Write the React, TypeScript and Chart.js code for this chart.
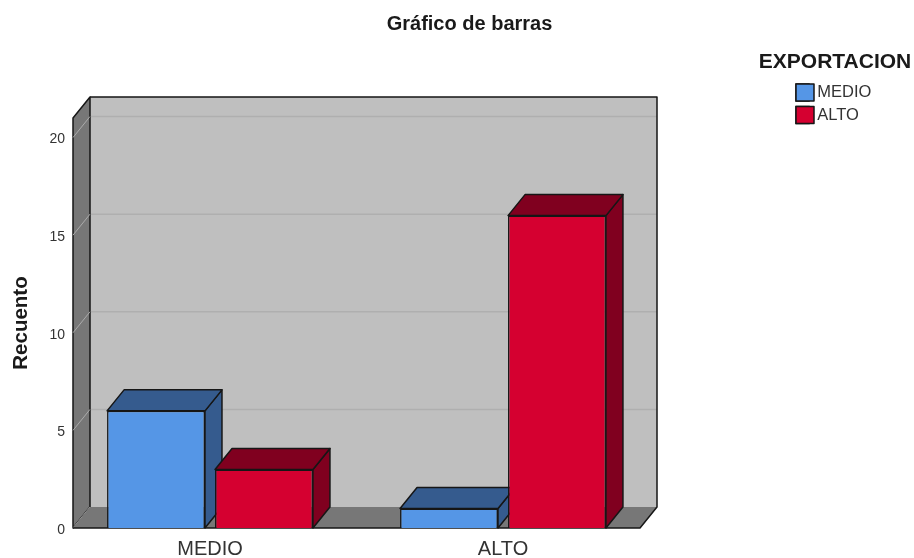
import React, { useEffect, useRef } from "react";
import { Chart, registerables } from "chart.js";

Chart.register(...registerables);

const categories = ["MEDIO", "ALTO"];
const seriesNames = ["MEDIO", "ALTO"];
const medioValues = [6, 1];
const altoValues = [3, 16];
const yTicks = [0, 5, 10, 15, 20];
const frontColors = ["#5596E6", "#D50030"];
const darkColors = ["#355B8E", "#80001F"];

const FONT = "'Liberation Sans', Arial, sans-serif";
const DX = 17;
const DY = 21;
const INSET = 9.5;
const OUTLINE = "#161616";

function poly(ctx: CanvasRenderingContext2D, pts: number[][], fill: string, stroke?: string, lw = 1.5) {
  ctx.beginPath();
  pts.forEach((p, i) => (i ? ctx.lineTo(p[0], p[1]) : ctx.moveTo(p[0], p[1])));
  ctx.closePath();
  ctx.fillStyle = fill;
  ctx.fill();
  if (stroke) {
    ctx.strokeStyle = stroke;
    ctx.lineWidth = lw;
    ctx.lineJoin = "round";
    ctx.stroke();
  }
}

const box3d = {
  id: "box3d",
  afterLayout(chart: any) {
    const t = chart.titleBlock;
    if (t) {
      t.left = 25;
      t.right = 914;
      t.width = 889;
    }
    const l = chart.legend;
    if (l) {
      l.left = 790.5;
      l.right = 879.5;
      l.width = 89;
      l.top = 52;
      l.bottom = 230;
      l.height = 178;
      // the title is wider than the item column: draw without the legend's own clip box
      l.draw = function () {
        this._draw();
      };
    }
    // tick labels sit slightly past the axis edge
    chart.scales.y._computeLabelArea = () => undefined;
  },
  beforeDatasetsDraw(chart: any) {
    const { ctx, chartArea, scales } = chart;
    const x0 = chartArea.left + INSET;
    const x1 = chartArea.right - INSET;
    const yB = chartArea.bottom;
    const yT = chartArea.top;
    ctx.save();
    poly(ctx, [[x0 + DX, yT - DY], [x1 + DX, yT - DY], [x1 + DX, yB - DY], [x0 + DX, yB - DY]], "#BFBFBF");
    yTicks.forEach((v) => {
      const y = scales.y.getPixelForValue(v);
      if (v > 0) {
        ctx.strokeStyle = "#AFAFAF";
        ctx.lineWidth = 1.5;
        ctx.beginPath();
        ctx.moveTo(x0 + DX, y - DY);
        ctx.lineTo(x1 + DX, y - DY);
        ctx.stroke();
      }
    });
    poly(ctx, [[x0, yT], [x0 + DX, yT - DY], [x0 + DX, yB - DY], [x0, yB]], "#777777", OUTLINE, 1.5);
    yTicks.forEach((v) => {
      const y = scales.y.getPixelForValue(v);
      ctx.strokeStyle = "#ABABAB";
      ctx.lineWidth = 1;
      ctx.beginPath();
      ctx.moveTo(x0, y);
      ctx.lineTo(x0 + DX, y - DY);
      ctx.stroke();
    });
    poly(ctx, [[x0, yB], [x0 + DX, yB - DY], [x1 + DX, yB - DY], [x1, yB]], "#777777");
    ctx.strokeStyle = OUTLINE;
    ctx.lineWidth = 1.5;
    ctx.beginPath();
    ctx.moveTo(x0 + DX, yT - DY);
    ctx.lineTo(x1 + DX, yT - DY);
    ctx.lineTo(x1 + DX, yB - DY);
    ctx.lineTo(x1, yB);
    ctx.lineTo(x0, yB);
    ctx.stroke();
    categories.forEach((_, c) => {
      chart.data.datasets.forEach((_d: any, s: number) => {
        const bar = chart.getDatasetMeta(s).data[c];
        const { x, y, base, width } = bar.getProps(["x", "y", "base", "width"], true);
        const l = x - width / 2;
        const r = x + width / 2;
        poly(ctx, [[r, y], [r + DX, y - DY], [r + DX, base - DY], [r, base]], darkColors[s], OUTLINE);
        poly(ctx, [[l, y], [l + DX, y - DY], [r + DX, y - DY], [r, y]], darkColors[s], OUTLINE);
      });
    });
    ctx.restore();
  },
  afterDraw(chart: any) {
    const { ctx } = chart;
    const hit = chart.legend && chart.legend.legendHitBoxes;
    if (!hit) return;
    ctx.save();
    hit.forEach((h: any, i: number) => {
      poly(ctx, [[h.left, h.top], [h.left + 18, h.top], [h.left + 18, h.top + 17], [h.left, h.top + 17]], frontColors[i], OUTLINE);
    });
    ctx.restore();
  },
};

export default function App() {
  const ref = useRef<HTMLCanvasElement>(null);
  useEffect(() => {
    const chart = new Chart(ref.current as HTMLCanvasElement, {
      type: "bar",
      data: {
        labels: categories,
        datasets: [medioValues, altoValues].map((values, i) => ({
          label: seriesNames[i],
          data: values,
          backgroundColor: frontColors[i],
          borderColor: OUTLINE,
          borderWidth: 1.5,
          categoryPercentage: 0.737,
          barPercentage: 0.907,
        })),
      },
      options: {
        responsive: false,
        animation: false,
        layout: { padding: { left: 0, right: 264.5, top: 0, bottom: 0 } },
        plugins: {
          tooltip: { enabled: false },
          title: {
            display: true,
            text: "Gráfico de barras",
            color: "#1a1a1a",
            font: { family: FONT, size: 20, weight: "bold" },
            padding: { top: 12, bottom: 82 },
          },
          legend: {
            display: true,
            position: "chartArea",
            align: "start",
            title: {
              display: true,
              text: "EXPORTACION",
              color: "#1a1a1a",
              position: "center",
              font: { family: FONT, size: 21, weight: "bold" },
              padding: { top: 0, bottom: 1.3 },
            },
            labels: {
              color: "#333333",
              boxWidth: 13,
              boxHeight: 17,
              padding: 5.5,
              font: { family: FONT, size: 16.5 },
            },
          },
        },
        scales: {
          x: {
            grid: { display: false },
            border: { display: false },
            ticks: { color: "#333333", font: { family: FONT, size: 20 }, padding: 1.5, maxRotation: 0 },
            afterFit: (s: any) => { s.height = 30; },
          },
          y: {
            min: 0,
            max: 21,
            grid: { display: false, drawTicks: false },
            border: { display: false },
            afterBuildTicks: (s: any) => { s.ticks = yTicks.map((value) => ({ value })); },
            ticks: { color: "#333333", font: { family: FONT, size: 14 }, padding: -1.5, labelOffset: 2, includeBounds: false },
            title: {
              display: true,
              text: "Recuento",
              color: "#1a1a1a",
              font: { family: FONT, size: 20.5, weight: "bold" },
              padding: { top: 9, bottom: 0 },
            },
            afterFit: (s: any) => { s.width = 63.5; },
          },
        },
      } as any,
      plugins: [box3d],
    });
    return () => chart.destroy();
  }, []);
  return (
    <div style={{ position: "fixed", left: 0, top: 0, width: 914, height: 558, background: "#fff" }}>
      <canvas ref={ref} width={914} height={558} style={{ display: "block" }} />
    </div>
  );
}
